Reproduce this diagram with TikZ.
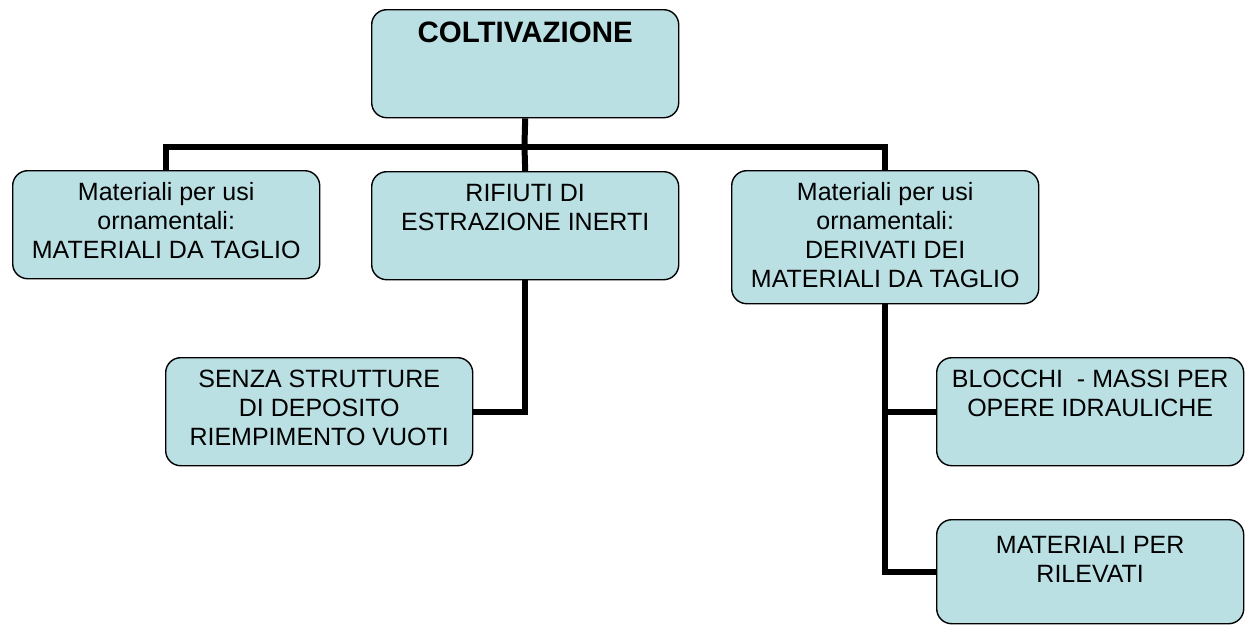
\documentclass[tikz,border=0pt]{standalone}
\usepackage{fontspec}
\setmainfont{Liberation Sans}
\definecolor{boxfill}{RGB}{186,224,228}
\begin{document}
\begin{tikzpicture}[x=1pt,y=-1pt,
  box/.style={draw=black,fill=boxfill,line width=1.4pt,rounded corners=15pt,
    minimum width=307pt,minimum height=108pt,inner sep=0pt,anchor=north west},
  lbl/.style={anchor=north,align=center,inner sep=0pt,
    font=\fontsize{25}{29}\selectfont},
  conn/.style={line width=6pt,draw=black,line join=miter}]
\useasboundingbox (0,0) rectangle (1247,624);
% boxes
\node[box] (top) at (371,9) {};
\node[box] (left) at (12,170) {};
\node[box] (mid) at (371,171) {};
\node[box,minimum height=133pt] (right) at (731,170) {};
\node[box] (senza) at (165,357) {};
\node[box] (blocchi) at (936,357) {};
\node[box,minimum height=104pt] (rilev) at (936,519) {};
% labels
\node[lbl,font=\fontsize{29.5}{33}\selectfont\bfseries] (topT) at ([yshift=-13pt]top.north) {COLTIVAZIONE};
\node[lbl] (leftT) at ([yshift=-12pt]left.north) {Materiali per usi\\ornamentali:\\MATERIALI DA TAGLIO};
\node[lbl] (midT) at ([yshift=-13pt]mid.north) {RIFIUTI DI\\ESTRAZIONE INERTI};
\node[lbl] (rightT) at ([yshift=-12pt]right.north) {Materiali per usi\\ornamentali:\\DERIVATI DEI\\MATERIALI DA TAGLIO};
\node[lbl] (senzaT) at ([yshift=-13pt]senza.north) {SENZA STRUTTURE\\DI DEPOSITO\\RIEMPIMENTO VUOTI};
\node[lbl] (blocchiT) at ([yshift=-13pt]blocchi.north) {BLOCCHI\ \ - MASSI PER\\OPERE IDRAULICHE};
\node[lbl] (rilevT) at ([yshift=-17pt]rilev.north) {MATERIALI PER\\RILEVATI};
% connectors
\coordinate (bus) at (524.5,147);
\draw[conn] (top.south) -- ([yshift=3pt]bus);
\draw[conn] (left.north) |- (bus) -| (right.north);
\draw[conn] (bus) -- (mid.north);
\draw[conn] (mid.south) |- (senza.east);
\draw[conn] (right.south) |- (rilev.west);
\draw[conn] (right.south |- blocchi.west) -- (blocchi.west);
\end{tikzpicture}
\end{document}
